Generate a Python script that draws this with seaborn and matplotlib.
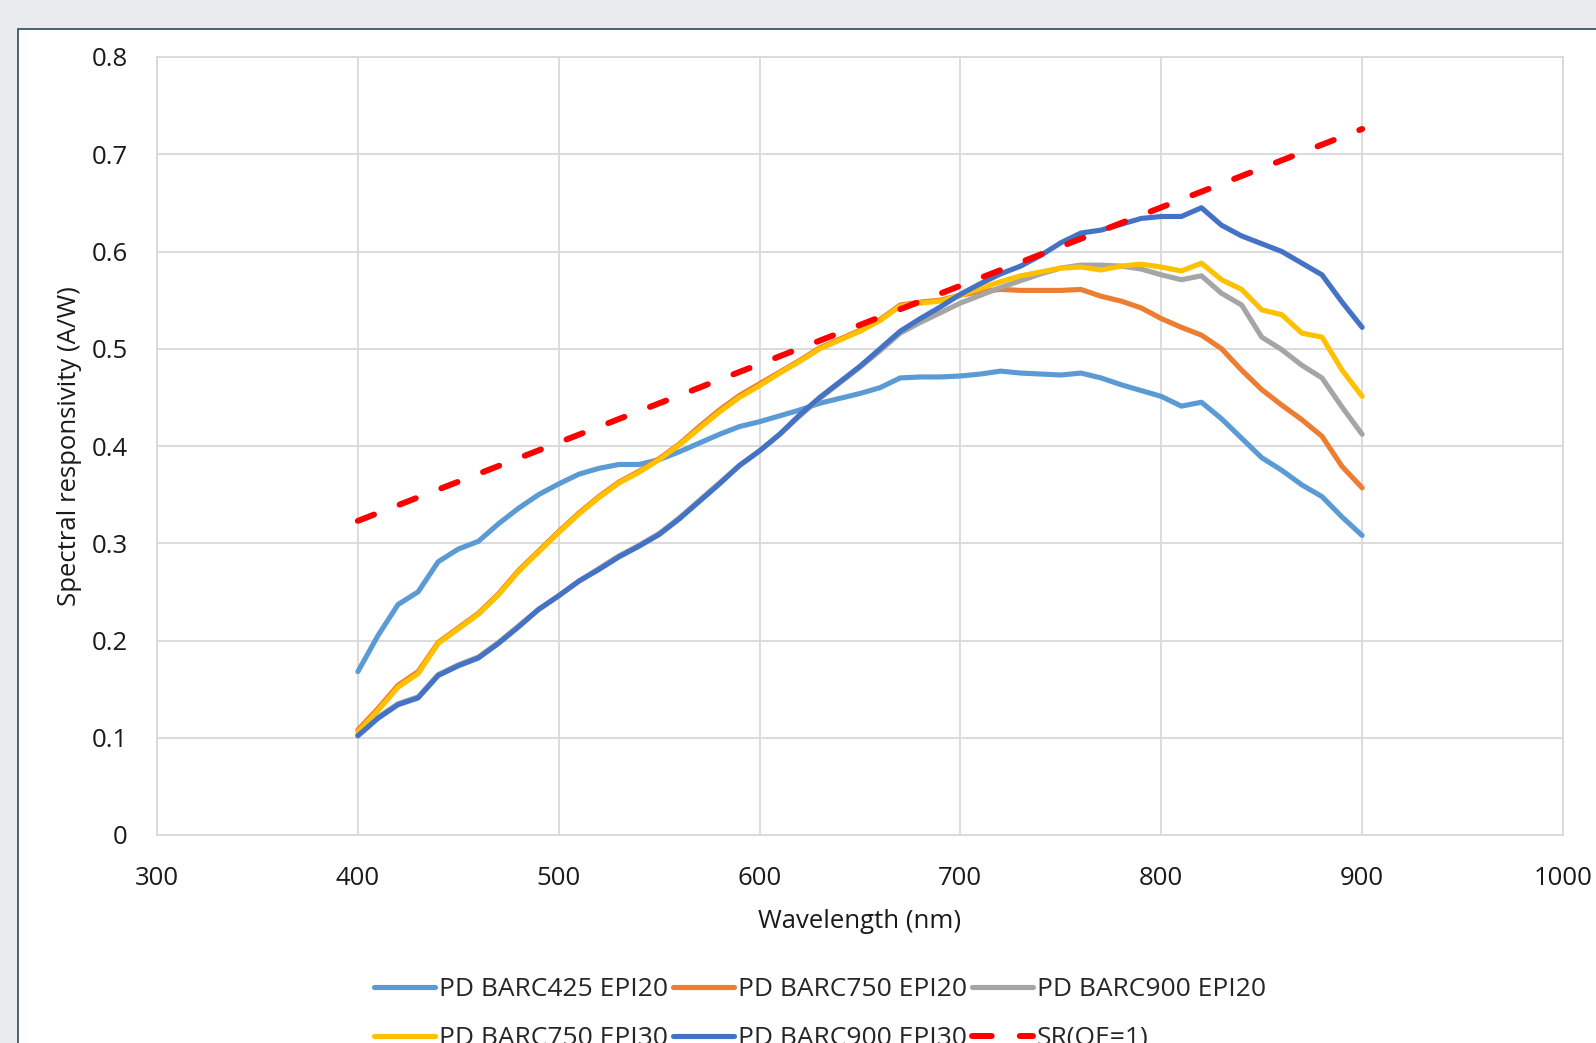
import numpy as np
import pandas as pd
import matplotlib
matplotlib.use("Agg")
import matplotlib.pyplot as plt
from matplotlib.patches import Rectangle
import seaborn as sns

# ---------------- data ----------------
wavelength = [400, 410, 420, 430, 440, 450, 460, 470, 480, 490,
              500, 510, 520, 530, 540, 550, 560, 570, 580, 590,
              600, 610, 620, 630, 640, 650, 660, 670, 680, 690,
              700, 710, 720, 730, 740, 750, 760, 770, 780, 790,
              800, 810, 820, 830, 840, 850, 860, 870, 880, 890, 900]

barc425_epi20 = [0.168, 0.205, 0.237, 0.250, 0.281, 0.294, 0.302, 0.320, 0.336, 0.350,
                 0.361, 0.371, 0.377, 0.381, 0.381, 0.386, 0.394, 0.403, 0.412, 0.420,
                 0.425, 0.431, 0.437, 0.444, 0.449, 0.454, 0.460, 0.470, 0.471, 0.471,
                 0.472, 0.474, 0.477, 0.475, 0.474, 0.473, 0.475, 0.470, 0.463, 0.457,
                 0.451, 0.441, 0.445, 0.428, 0.408, 0.388, 0.375, 0.360, 0.348, 0.327, 0.308]

barc750_epi20 = [0.108, 0.130, 0.154, 0.168, 0.198, 0.213, 0.228, 0.248, 0.272, 0.292,
                 0.312, 0.331, 0.348, 0.363, 0.374, 0.387, 0.402, 0.420, 0.437, 0.452,
                 0.464, 0.476, 0.488, 0.501, 0.510, 0.519, 0.530, 0.545, 0.548, 0.550,
                 0.555, 0.559, 0.561, 0.560, 0.560, 0.560, 0.561, 0.554, 0.549, 0.542,
                 0.531, 0.522, 0.514, 0.500, 0.478, 0.458, 0.442, 0.427, 0.410, 0.379, 0.357]

barc900_epi20 = [0.103, 0.121, 0.135, 0.142, 0.165, 0.175, 0.183, 0.198, 0.215, 0.232,
                 0.246, 0.261, 0.274, 0.287, 0.298, 0.310, 0.326, 0.344, 0.362, 0.380,
                 0.395, 0.412, 0.431, 0.449, 0.465, 0.481, 0.498, 0.516, 0.527, 0.537,
                 0.547, 0.555, 0.563, 0.570, 0.577, 0.583, 0.586, 0.586, 0.585, 0.582,
                 0.576, 0.571, 0.575, 0.557, 0.545, 0.512, 0.499, 0.483, 0.470, 0.440, 0.412]

barc750_epi30 = [0.106, 0.128, 0.152, 0.166, 0.197, 0.212, 0.227, 0.247, 0.271, 0.291,
                 0.311, 0.330, 0.347, 0.362, 0.373, 0.386, 0.401, 0.418, 0.435, 0.450,
                 0.462, 0.475, 0.487, 0.500, 0.509, 0.518, 0.529, 0.544, 0.547, 0.549,
                 0.555, 0.562, 0.569, 0.575, 0.579, 0.583, 0.584, 0.581, 0.585, 0.587,
                 0.584, 0.580, 0.588, 0.571, 0.561, 0.540, 0.535, 0.516, 0.512, 0.478, 0.451]

barc900_epi30 = [0.102, 0.120, 0.134, 0.141, 0.164, 0.174, 0.182, 0.197, 0.214, 0.232,
                 0.246, 0.261, 0.273, 0.286, 0.297, 0.309, 0.325, 0.343, 0.361, 0.380,
                 0.395, 0.412, 0.432, 0.450, 0.466, 0.482, 0.500, 0.518, 0.531, 0.543,
                 0.556, 0.567, 0.577, 0.585, 0.596, 0.609, 0.619, 0.622, 0.628, 0.634,
                 0.636, 0.636, 0.645, 0.627, 0.616, 0.608, 0.600, 0.588, 0.576, 0.548, 0.522]

sr_wavelength = [400, 900]
sr_qe1 = [0.323, 0.726]

series_names = ["PD BARC425 EPI20", "PD BARC750 EPI20", "PD BARC900 EPI20",
                "PD BARC750 EPI30", "PD BARC900 EPI30"]
series_values = [barc425_epi20, barc750_epi20, barc900_epi20, barc750_epi30, barc900_epi30]
series_colors = ["#5B9BD5", "#ED7D31", "#A5A5A5", "#FFC000", "#4472C4"]
sr_name = "SR(QE=1)"

x_ticks = [300, 400, 500, 600, 700, 800, 900, 1000]
y_ticks = [0, 0.1, 0.2, 0.3, 0.4, 0.5, 0.6, 0.7, 0.8]
y_ticklabels = ["0", "0.1", "0.2", "0.3", "0.4", "0.5", "0.6", "0.7", "0.8"]

# ---------------- style ----------------
sns.set_style("whitegrid")
plt.rcParams["font.family"] = ["Open Sans", "DejaVu Sans"]

W, H = 1596, 1043
fig = plt.figure(figsize=(W / 100, H / 100), dpi=100)
fig.patch.set_facecolor("#E9EBEE")

# white chart panel with thin dark border
panel = Rectangle((18 / W, -0.05), 1.2, (H - 29) / H + 0.05,
                  transform=fig.transFigure, facecolor="white",
                  edgecolor="#2E4A5E", linewidth=1.2, zorder=-5)
fig.patches.append(panel)

ax = fig.add_axes([157 / W, (H - 835) / H, (1563 - 157) / W, (835 - 57) / H])
ax.set_zorder(2)
ax.set_facecolor("white")

lw = 3.7
for name, vals, col in zip(series_names, series_values, series_colors):
    df = pd.DataFrame({"wl": wavelength, "sr": vals})
    sns.lineplot(data=df, x="wl", y="sr", ax=ax, color=col, linewidth=lw,
                 label=name, solid_capstyle="round", solid_joinstyle="round")

df_sr = pd.DataFrame({"wl": sr_wavelength, "sr": sr_qe1})
sns.lineplot(data=df_sr, x="wl", y="sr", ax=ax, color="#FF0000", linewidth=4.3,
             label=sr_name)
sr_line = ax.get_lines()[-1]
sr_line.set_linestyle((0, (2.9, 4.6)))
sr_line.set_dash_capstyle("round")

ax.set_xlim(300, 1000)
ax.set_ylim(0, 0.8)
ax.set_xticks(x_ticks)
ax.set_yticks(y_ticks)
ax.set_yticklabels(y_ticklabels)
ax.grid(True, color="#D9D9D9", linewidth=1.3)
for sp in ax.spines.values():
    sp.set_visible(True)
    sp.set_color("#D9D9D9")
    sp.set_linewidth(1.3)
ax.tick_params(axis="both", length=0, labelsize=18.5, colors="#1A1A1A")
ax.tick_params(axis="y", pad=21)
ax.tick_params(axis="x", pad=22)

ax.set_xlabel("Wavelength (nm)", fontsize=18.5, color="#1A1A1A", labelpad=13)
ax.set_ylabel("Spectral responsivity (A/W)", fontsize=18.5, color="#1A1A1A", labelpad=7)

handles, labels = ax.get_legend_handles_labels()
if ax.get_legend() is not None:
    ax.get_legend().remove()
# legend fills column-wise; reorder so rows read left to right
order = [0, 3, 1, 4, 2, 5]
handles = [handles[i] for i in order]
labels = [labels[i] for i in order]
leg = fig.legend(handles, labels, loc="upper left",
                 bbox_to_anchor=(374 / W, (H - 977) / H), ncol=3, frameon=False,
                 borderpad=0, borderaxespad=0, handlelength=2.3, handletextpad=0.15,
                 columnspacing=0.2, labelspacing=0.9,
                 prop={"family": ["Open Sans"], "size": 19})
for lh in leg.get_lines():
    lh.set_linewidth(3.7)
    lh.set_solid_capstyle("round")
leg.get_lines()[-1].set_linewidth(4.3)
leg.get_lines()[-1].set_linestyle((0, (3.3, 4.7)))
leg.get_lines()[-1].set_dash_capstyle("round")

fig.savefig("out.png", dpi=100, facecolor=fig.get_facecolor())
